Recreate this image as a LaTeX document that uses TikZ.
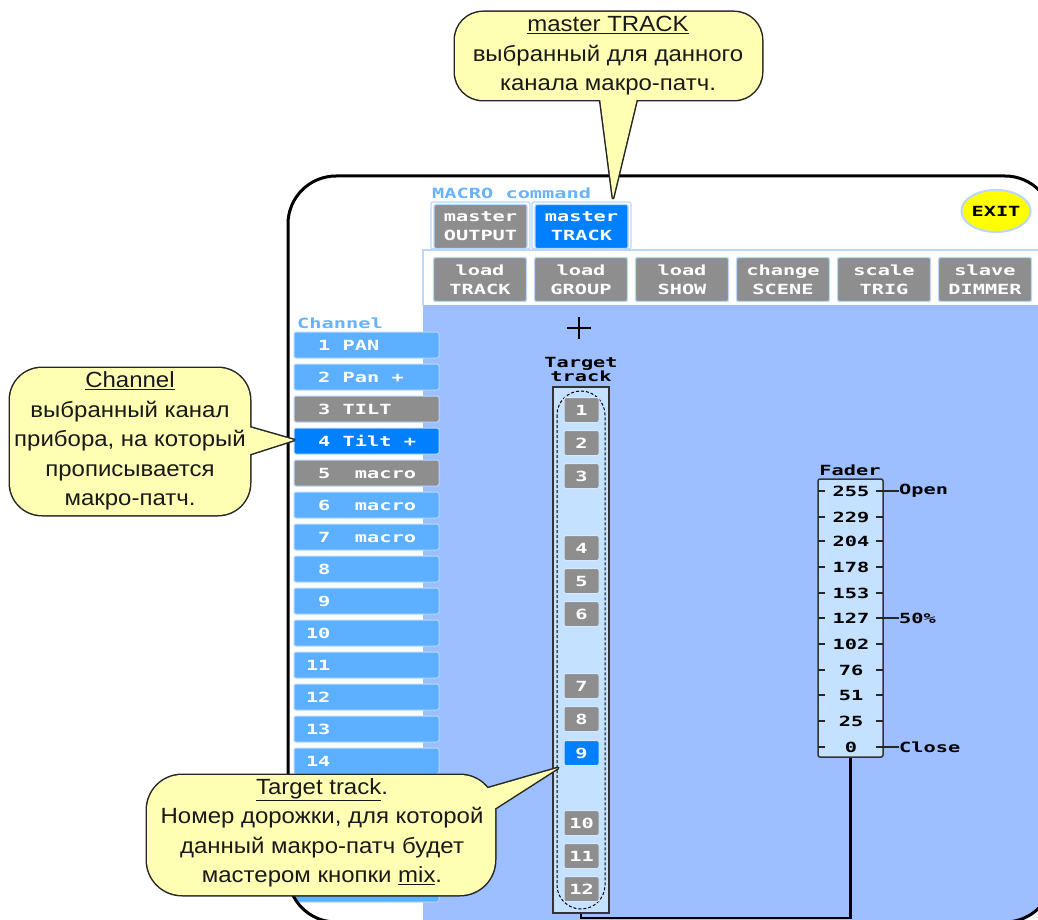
\documentclass[tikz,border=0pt]{standalone}
\usepackage{fontspec}
\setmainfont{Liberation Sans}
\newfontfamily\pixfont[FakeStretch=1.45]{DejaVu Sans Mono}
\newfontfamily\callfont[FakeStretch=1.09]{Liberation Sans}
\usetikzlibrary{shapes.geometric,calc}

\definecolor{panelblue}{RGB}{157,191,255}
\definecolor{chanblue}{RGB}{92,176,255}
\definecolor{selblue}{RGB}{0,128,255}
\definecolor{btngray}{RGB}{142,142,142}
\definecolor{trackfill}{RGB}{196,226,255}
\definecolor{calloutfill}{RGB}{255,255,180}
\definecolor{labelblue}{RGB}{102,179,255}
\definecolor{edgeblue}{RGB}{184,216,255}
\definecolor{exityellow}{RGB}{255,255,0}

\newcommand\uln[1]{\underline{#1}}
% one character cell of the monospaced screen font
\newcommand\pxs{\phantom{0}}
\newcommand\pix{\pixfont\bfseries\fontsize{14}{16}\selectfont}
\newcommand\pixtwo{\pixfont\bfseries\fontsize{14}{19}\selectfont}
\newcommand\pixtight{\pixfont\bfseries\fontsize{14}{14}\selectfont}

\tikzset{
  chanbtn/.style={rectangle, rounded corners=2pt, minimum width=145pt,
    minimum height=26pt, inner xsep=12pt, inner ysep=0pt, text width=121pt,
    align=left, draw=edgeblue, line width=1pt, text=white, font=\pix,
    text height=10pt, text depth=0pt},
  tabbtn/.style={rectangle, rounded corners=2pt, minimum width=93pt,
    minimum height=44pt, inner sep=0pt, align=center, text=white,
    font=\pixtwo, fill=btngray, draw=edgeblue, line width=1.2pt},
  trkbtn/.style={rectangle, rounded corners=2pt, minimum width=35pt,
    minimum height=25pt, inner sep=0pt, fill=btngray,
    draw=edgeblue!60!white, line width=1pt, text=white, font=\pix},
  blacktxt/.style={font=\pix, text=black, inner sep=0pt},
  bluetxt/.style={font=\pix, text=labelblue, inner sep=0pt, anchor=west},
  tick/.style={line width=1.5pt, black!85},
  bubbleedge/.style={draw=black!85, line width=3pt, line join=round},
  callouttext/.style={align=center, font=\callfont\fontsize{22}{29.5}\selectfont,
    inner sep=0pt, text=black!90},
}

\begin{document}
\begin{tikzpicture}[x=1pt,y=-1pt]
\useasboundingbox (0,0) rectangle (1038,920);

% ---------- screen ----------
\begin{scope}
  \clip[rounded corners=48pt] (288,176) rectangle (1053,922);
  \fill[white] (288,176) rectangle (1053,922);
  \fill[panelblue] (423,305) rectangle (1053,922);
  \draw[edgeblue, line width=1.5pt] (423,305) -- (423,250) -- (1053,250);

  % header
  \node[bluetxt] (macrolbl) at (432,193) {MACRO\pxs command};
  \draw[edgeblue, line width=1.2pt, rounded corners=2pt] (431,202) rectangle (530,249);
  \draw[edgeblue, line width=1.2pt, rounded corners=2pt] (532,202) rectangle (631,249);
  \node[tabbtn] (mout) at (480.5,226.5) {master\\OUTPUT};
  \node[tabbtn, fill=selblue] (mtrk) at (581.5,226.5) {master\\TRACK};

  \node[tabbtn] (ldtrk) at (480,279.5) {load\\TRACK};
  \node[tabbtn] (ldgrp) at (581,279.5) {load\\GROUP};
  \node[tabbtn] (ldshw) at (682,279.5) {load\\SHOW};
  \node[tabbtn] (chscn) at (783,279.5) {change\\SCENE};
  \node[tabbtn] (sctrg) at (884,279.5) {scale\\TRIG};
  \node[tabbtn] (sldim) at (985,279.5) {slave\\DIMMER};

  \node[ellipse, fill=exityellow, draw=edgeblue, line width=2pt,
        minimum width=62pt, minimum height=42pt, inner sep=0pt,
        font=\pix] (exit) at (996,211) {EXIT};

  % channel list
  \node[bluetxt] (chlbl) at (297,323) {Channel};
  \foreach \i/\lab/\col in {
      1/{\pxs1\pxs PAN}/chanblue,
      2/{\pxs2\pxs Pan\pxs+}/chanblue,
      3/{\pxs3\pxs TILT}/btngray,
      4/{\pxs4\pxs Tilt\pxs+}/selblue,
      5/{\pxs5\pxs\pxs macro}/btngray,
      6/{\pxs6\pxs\pxs macro}/chanblue,
      7/{\pxs7\pxs\pxs macro}/chanblue,
      8/{\pxs8}/chanblue,
      9/{\pxs9}/chanblue,
      10/{10}/chanblue,
      11/{11}/chanblue,
      12/{12}/chanblue,
      13/{13}/chanblue,
      14/{14}/chanblue,
      15/{}/chanblue,
      16/{}/chanblue,
      17/{}/chanblue,
      18/{}/chanblue}
    \node[chanbtn, fill=\col] (ch\i) at (366.5,{345+32*(\i-1)}) {\lab};

  % target track column
  \node[blacktxt, align=center, font=\pixtight] (tlbl) at (581,369) {Target\\track};
  \coordinate (cursor) at (579,328);
  \draw[line width=2.6pt] ($(cursor)+(-12,0)$) -- ($(cursor)+(12,0)$);
  \draw[line width=2.6pt] ($(cursor)+(0,-11)$) -- ($(cursor)+(0,11)$);

  \node[draw=black!80, line width=1.5pt, fill=trackfill, minimum width=56pt,
        minimum height=526pt, inner sep=0pt] (tcol) at (581,650) {};
  \draw[dash pattern=on 3pt off 2pt, line width=1pt, rounded corners=24pt]
        (557,391) rectangle (605,909);
  \foreach \n/\yy in {1/410,2/443,3/476,4/548,5/581,6/614,7/686,8/719,10/823,11/856,12/889}
    \node[trkbtn] (tr\n) at (581.5,\yy) {\n};
  \node[trkbtn, fill=selblue] (tr9) at (581.5,753) {9};

  % fader scale
  \node[blacktxt] (faderlbl) at (850,470) {Fader};
  \node[draw=black!80, line width=1.5pt, fill=trackfill, rounded corners=2pt,
        minimum width=65pt, minimum height=278pt, inner sep=0pt] (fader) at (850.5,618) {};
  \foreach \v/\yy in {255/491,229/517,204/541,178/567,153/593,127/618,102/644,76/670,51/695,25/721,0/747} {
    \draw[tick] (818,\yy) -- (825,\yy);
    \draw[tick] (876,\yy) -- (883,\yy);
    \node[blacktxt] (fv\v) at (851,\yy) {\v};
  }
  \draw[tick] (883,491) -- (899,491);
  \draw[tick] (883,618) -- (899,618);
  \draw[tick] (883,747) -- (899,747);
  \node[blacktxt, anchor=west] (open) at (899,491) {Open};
  \node[blacktxt, anchor=west] (half) at (899,618) {50\%};
  \node[blacktxt, anchor=west] (close) at (899,747) {Close};

  % link from fader to target track
  \draw[line width=2.5pt] (fader.south) |- ($(tcol.south)+(0,4)$) -- (tcol.south);
\end{scope}
\draw[line width=3pt, rounded corners=48pt] (288,176) rectangle (1053,922);

% ---------- callouts ----------
% master TRACK
\coordinate (tipA) at (613,198);
\draw[bubbleedge, rounded corners=28pt] (455,12) rectangle (762,100);
\draw[bubbleedge] (599,90) -- (tipA) -- (639,90) -- cycle;
\fill[calloutfill, rounded corners=28pt] (455,12) rectangle (762,100);
\fill[calloutfill] (599,90) -- (tipA) -- (639,90) -- cycle;
\node[callouttext] (noteA) at (608,56) {\uln{master TRACK}\\выбранный для данного\\канала макро-патч.};

% Channel
\coordinate (tipB) at (294,440);
\draw[bubbleedge, rounded corners=32pt] (10,368) rectangle (250,515);
\draw[bubbleedge] (238,424) -- (tipB) -- (238,458) -- cycle;
\fill[calloutfill, rounded corners=32pt] (10,368) rectangle (250,515);
\fill[calloutfill] (238,424) -- (tipB) -- (238,458) -- cycle;
\node[callouttext] (noteB) at (130,441) {\uln{Channel}\\выбранный канал\\прибора, на который\\прописывается\\макро-патч.};

% Target track
\coordinate (tipC) at (558,768);
\draw[bubbleedge, rounded corners=35pt] (147,775) rectangle (495,895);
\draw[bubbleedge] (468,794) -- (tipC) -- (480,818) -- cycle;
\fill[calloutfill, rounded corners=35pt] (147,775) rectangle (495,895);
\fill[calloutfill] (468,794) -- (tipC) -- (480,818) -- cycle;
\node[callouttext] (noteC) at (322,833) {\uln{Target track}.\\Номер дорожки, для которой\\данный макро-патч будет\\мастером кнопки \uln{mix}.};
\end{tikzpicture}
\end{document}
